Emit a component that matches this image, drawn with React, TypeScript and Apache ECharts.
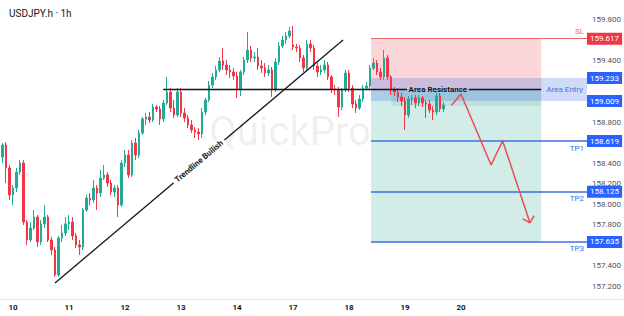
import { useEffect, useRef } from 'react';
import * as echarts from 'echarts';

const TITLE = 'USDJPY.h · 1h';
const WATERMARK = 'QuickPro';
const DAY_LABELS = ['10', '11', '12', '13', '14', '17', '18', '19', '20'];
const DAY_SLOTS = [0, 16, 32, 48, 64, 80, 96, 112, 128];
// tick labels that stay visible (the others sit under the price boxes)
const PRICE_TICKS = [157.2, 157.4, 157.8, 158.0, 158.2, 158.4, 158.8, 159.4, 159.8];
const X_MIN = -3.714;
const X_MAX = 164;
const Y_MIN = 157.078;
const Y_MAX = 159.995;
const FIRST_SLOT = -3;

// [open, close, low, high]
const OHLC: number[][] = [
  [158.463, 158.580, 158.405, 158.600], [158.580, 158.356, 158.210, 158.610], [158.356, 158.093, 158.044, 158.385],
  [158.093, 158.161, 157.995, 158.190], [158.161, 158.317, 158.122, 158.356], [158.317, 158.405, 158.288, 158.434],
  [158.405, 157.829, 157.800, 158.434], [157.829, 157.654, 157.605, 157.849], [157.654, 157.771, 157.634, 157.829],
  [157.771, 157.878, 157.751, 157.946], [157.878, 157.634, 157.585, 157.898], [157.634, 157.810, 157.605, 157.849],
  [157.810, 157.878, 157.771, 157.995], [157.878, 157.654, 157.634, 157.898], [157.654, 157.556, 157.507, 157.683],
  [157.556, 157.312, 157.293, 157.585], [157.312, 157.673, 157.293, 157.693], [157.673, 157.722, 157.634, 157.800],
  [157.722, 157.810, 157.693, 157.878], [157.810, 157.829, 157.751, 157.898], [157.829, 157.693, 157.654, 157.878],
  [157.693, 157.605, 157.576, 157.722], [157.605, 157.585, 157.507, 157.654], [157.585, 157.946, 157.556, 157.966],
  [157.946, 158.063, 157.927, 158.093], [158.063, 158.044, 157.995, 158.112], [158.044, 158.161, 158.015, 158.239],
  [158.161, 158.112, 157.946, 158.190], [158.112, 158.258, 158.073, 158.337], [158.258, 158.288, 158.239, 158.385],
  [158.288, 158.210, 158.171, 158.317], [158.210, 158.122, 158.093, 158.239], [158.122, 158.161, 158.073, 158.190],
  [158.161, 157.995, 157.878, 158.190], [157.995, 158.405, 157.976, 158.434], [158.405, 158.483, 158.366, 158.532],
  [158.483, 158.288, 158.258, 158.532], [158.288, 158.600, 158.268, 158.629], [158.600, 158.483, 158.434, 158.649],
  [158.483, 158.698, 158.454, 158.727], [158.698, 158.834, 158.678, 158.854], [158.834, 158.854, 158.776, 158.893],
  [158.854, 158.824, 158.795, 158.902], [158.824, 158.951, 158.805, 158.980], [158.951, 158.932, 158.902, 158.971],
  [158.932, 158.834, 158.776, 158.961], [158.834, 158.990, 158.805, 159.019], [158.990, 159.097, 158.971, 159.244],
  [159.097, 158.941, 158.902, 159.136], [158.941, 158.873, 158.844, 159.019], [158.873, 159.097, 158.854, 159.136],
  [159.097, 158.893, 158.854, 159.136], [158.893, 158.844, 158.805, 158.941], [158.844, 158.776, 158.746, 158.873],
  [158.776, 158.727, 158.698, 158.824], [158.727, 158.707, 158.649, 158.756], [158.707, 158.688, 158.629, 158.746],
  [158.688, 158.902, 158.649, 158.941], [158.902, 159.019, 158.873, 159.039], [159.019, 159.166, 159.000, 159.205],
  [159.166, 159.244, 159.136, 159.283], [159.244, 159.312, 159.215, 159.351], [159.312, 159.400, 159.293, 159.439],
  [159.400, 159.361, 159.312, 159.527], [159.361, 159.312, 159.263, 159.410], [159.312, 159.293, 159.234, 159.361],
  [159.293, 159.254, 159.215, 159.332], [159.254, 159.117, 159.039, 159.293], [159.117, 159.293, 159.058, 159.312],
  [159.293, 159.410, 159.263, 159.439], [159.410, 159.507, 159.380, 159.683], [159.507, 159.429, 159.390, 159.546],
  [159.429, 159.439, 159.390, 159.488], [159.439, 159.351, 159.312, 159.527], [159.351, 159.332, 159.283, 159.410],
  [159.332, 159.283, 159.244, 159.380], [159.283, 159.312, 159.254, 159.361], [159.312, 159.117, 159.049, 159.341],
  [159.117, 159.390, 159.097, 159.429], [159.390, 159.546, 159.361, 159.585], [159.546, 159.605, 159.527, 159.644],
  [159.605, 159.644, 159.566, 159.683], [159.644, 159.693, 159.624, 159.732], [159.556, 159.536, 159.507, 159.741],
  [159.536, 159.527, 159.488, 159.566], [159.527, 159.429, 159.390, 159.556], [159.429, 159.332, 159.293, 159.458],
  [159.332, 159.566, 159.312, 159.605], [159.566, 159.527, 159.488, 159.605], [159.527, 159.351, 159.312, 159.556],
  [159.351, 159.293, 159.244, 159.380], [159.293, 159.312, 159.263, 159.361], [159.312, 159.361, 159.283, 159.410],
  [159.361, 159.244, 159.215, 159.390], [159.244, 159.127, 159.088, 159.263], [159.127, 159.117, 159.068, 159.166],
  [159.117, 158.951, 158.854, 159.146], [158.951, 159.117, 158.922, 159.136], [159.117, 159.283, 159.097, 159.312],
  [159.283, 159.136, 159.097, 159.312], [159.136, 158.980, 158.941, 159.166], [158.980, 158.941, 158.893, 159.019],
  [158.941, 159.029, 158.922, 159.068], [159.029, 159.136, 159.000, 159.166], [159.136, 159.156, 159.117, 159.195],
  [159.156, 159.332, 159.127, 159.361], [159.332, 159.380, 159.312, 159.429], [159.380, 159.293, 159.263, 159.410],
  [159.293, 159.244, 159.215, 159.332], [159.244, 159.429, 159.215, 159.507], [159.429, 159.244, 159.215, 159.458],
  [159.244, 159.117, 159.068, 159.263], [159.117, 159.097, 159.058, 159.146], [159.097, 159.049, 159.000, 159.136],
  [159.049, 159.010, 158.961, 159.088], [159.010, 158.873, 158.727, 159.049], [158.873, 159.029, 158.844, 159.058],
  [159.029, 159.039, 158.971, 159.068], [159.039, 158.990, 158.941, 159.068], [158.990, 159.039, 158.961, 159.068],
  [159.039, 158.990, 158.951, 159.058], [158.990, 158.980, 158.844, 159.019], [158.980, 158.922, 158.893, 159.019],
  [158.922, 158.902, 158.824, 158.961], [158.902, 159.058, 158.873, 159.097], [159.058, 158.932, 158.902, 159.088],
  [158.932, 158.971, 158.902, 159.000],
];

const SL = 159.617;
const ENTRY = 159.125;
const TPS = [158.619, 158.125, 157.635];
const TP_NAMES = ['TP1', 'TP2', 'TP3'];
const ZONE_TOP = 159.233;
const ZONE_BOTTOM = 159.009;
const BOX_X = [102.3, 150.9];
const HIGHLIGHT_X = [108, 150.9];
const HIGHLIGHT_BOTTOM = 158.961;
const RESIST_X = [42.9, 150.9];
const RESIST_GAP = [112.6, 130.2];
const TREND = [[12, 157.234], [94.3, 159.605]];
const ARROW = [[125.3, 158.968], [128, 159.078], [136.6, 158.385], [139.9, 158.62], [147.7, 157.822]];
const ARROW_HEAD = [[145.6, 157.859], [147.7, 157.822], [148.9, 157.891]];

const UP = '#22ab94';
const DOWN = '#f23645';
const BLUE = '#2962ff';
const FONT = 'Roboto, "Liberation Sans", sans-serif';

export default function App() {
  const ref = useRef<HTMLDivElement>(null);
  useEffect(() => {
    if (!ref.current) return;
    const chart = echarts.init(ref.current, undefined, { renderer: 'svg' });
    const candleData = OHLC.map((r, i) => [FIRST_SLOT + i, r[0], r[1], r[2], r[3]]);

    const priceBox = (v: number, color: string) => [
      {
        coord: [X_MAX - 1, v],
        lineStyle: { color: 'rgba(0,0,0,0)', width: 0 },
        label: {
          show: true, position: 'end', distance: 0, formatter: v.toFixed(3),
          backgroundColor: color, color: '#fff', padding: [2, 3, 2, 3], fontSize: 8, fontFamily: FONT,
        },
      },
      { coord: [X_MAX, v] },
    ];

    const option: any = {
      animation: false,
      textStyle: { fontFamily: FONT },
      title: {
        text: TITLE, left: 4, top: 3,
        textStyle: { fontSize: 10, fontWeight: 'normal', color: '#131722', fontFamily: FONT },
      },
      grid: { left: 0, right: 37, top: 0, bottom: 17, containLabel: false, outerBoundsMode: 'none' },
      graphic: [
        {
          type: 'text', x: 290, y: 131, z: -10, silent: true,
          style: {
            text: WATERMARK, fontSize: 40, fontFamily: FONT, fill: 'rgba(0,0,0,0.075)',
            align: 'center', verticalAlign: 'middle',
          },
        },
        {
          type: 'line', silent: true, z: -10,
          shape: { x1: 0, y1: 299.5, x2: 624, y2: 299.5 },
          style: { stroke: '#e0e3eb', lineWidth: 1 },
        },
      ],
      xAxis: {
        type: 'value', min: X_MIN, max: X_MAX,
        axisLine: { show: true, lineStyle: { color: '#e0e3eb' } },
        axisTick: { show: false },
        splitLine: { show: false },
        axisLabel: {
          customValues: DAY_SLOTS,
          formatter: (v: number) => DAY_LABELS[DAY_SLOTS.indexOf(v)] ?? '',
          fontSize: 8, color: '#131722', fontWeight: 'bold', margin: 4, fontFamily: FONT,
        },
      },
      yAxis: {
        type: 'value', position: 'right', min: Y_MIN, max: Y_MAX, scale: true,
        axisLine: { show: false },
        axisTick: { show: false },
        splitLine: { show: false },
        axisLabel: {
          customValues: PRICE_TICKS,
          formatter: (v: number) => v.toFixed(3),
          fontSize: 8, color: '#50535e', margin: 5, fontFamily: FONT,
        },
      },
      series: [
        {
          type: 'line', data: [], clip: false, z: 1, silent: true,
          markArea: {
            silent: true,
            data: [
              [{ coord: [BOX_X[0], SL], itemStyle: { color: 'rgba(242,54,69,0.2)' } }, { coord: [BOX_X[1], ENTRY] }],
              [{ coord: [BOX_X[0], ENTRY], itemStyle: { color: 'rgba(8,153,129,0.18)' } }, { coord: [BOX_X[1], TPS[2]] }],
              [
                {
                  coord: [BOX_X[0], ZONE_TOP], itemStyle: { color: 'rgba(60,110,230,0.25)' },
                  label: {
                    show: true, position: 'insideRight', distance: 4, formatter: 'Area Entry',
                    color: '#4a72d8', fontSize: 8, fontFamily: FONT,
                  },
                },
                { coord: [X_MAX, ZONE_BOTTOM] },
              ],
              [{ coord: [HIGHLIGHT_X[0], ENTRY], itemStyle: { color: 'rgba(20,100,110,0.09)' } }, { coord: [HIGHLIGHT_X[1], HIGHLIGHT_BOTTOM] }],
            ],
          },
        },
        {
          type: 'line', data: [], clip: false, z: 2, silent: true,
          markLine: {
            silent: true, symbol: ['none', 'none'], animation: false,
            data: [
              [
                {
                  coord: TREND[0], lineStyle: { color: '#131722', width: 1.3, type: 'solid' },
                  label: {
                    show: true, position: 'middle', formatter: 'Trendline Bullish', verticalAlign: 'middle',
                    align: 'center', distance: 0, backgroundColor: '#ffffff', padding: [1, 3], fontWeight: 'bold',
                    fontSize: 8, color: '#131722', fontFamily: FONT,
                  },
                },
                { coord: TREND[1] },
              ],
              [
                { coord: [RESIST_X[0], ENTRY], lineStyle: { color: '#131722', width: 1.3, type: 'solid' }, label: { show: false } },
                { coord: [RESIST_GAP[0], ENTRY] },
              ],
              [
                { coord: [RESIST_GAP[1], ENTRY], lineStyle: { color: '#131722', width: 1.3, type: 'solid' }, label: { show: false } },
                { coord: [RESIST_X[1], ENTRY] },
              ],
              [
                {
                  coord: [RESIST_GAP[0], ENTRY], lineStyle: { color: 'rgba(0,0,0,0)', width: 0 },
                  label: {
                    show: true, position: 'middle', formatter: 'Area Resistance', verticalAlign: 'middle',
                    align: 'center', distance: 0, fontWeight: 'bold', fontSize: 8, color: '#131722', fontFamily: FONT,
                  },
                },
                { coord: [RESIST_GAP[1], ENTRY] },
              ],
            ],
          },
        },
        {
          type: 'candlestick', data: candleData, z: 3, barWidth: 1.6,
          encode: { x: 0, y: [1, 2, 3, 4] },
          itemStyle: { color: UP, color0: DOWN, borderColor: UP, borderColor0: DOWN, borderWidth: 1 },
        },
        {
          type: 'line', data: [], clip: false, z: 5, silent: true,
          markLine: {
            silent: true, symbol: ['none', 'none'], animation: false,
            data: [
              [
                {
                  coord: [BOX_X[0], SL], lineStyle: { color: '#f0646e', width: 1.2, type: 'solid' },
                  label: { show: true, position: 'insideEndTop', formatter: 'SL', color: '#f0646e', fontSize: 8, distance: 3, fontFamily: FONT },
                },
                { coord: [X_MAX, SL] },
              ],
              ...TPS.map((v, i) => [
                {
                  coord: [BOX_X[0], v], lineStyle: { color: '#3b6fe0', width: 1.5, type: 'solid' },
                  label: { show: true, position: 'insideEndBottom', formatter: TP_NAMES[i], color: '#3b6fe0', fontSize: 8, distance: 3, fontFamily: FONT },
                },
                { coord: [X_MAX, v] },
              ]),
              priceBox(SL, DOWN),
              priceBox(ZONE_TOP, BLUE),
              priceBox(ZONE_BOTTOM, BLUE),
              ...TPS.map((v) => priceBox(v, BLUE)),
            ],
          },
        },
        {
          type: 'line', data: ARROW, z: 6, showSymbol: false, symbol: 'none', silent: true,
          lineStyle: { color: '#ec4b56', width: 1.5 },
        },
        {
          type: 'line', data: ARROW_HEAD, z: 6, showSymbol: false, symbol: 'none', silent: true,
          lineStyle: { color: '#ec4b56', width: 1.5 },
        },
      ],
    };
    chart.setOption(option);
    return () => chart.dispose();
  }, []);

  return (
    <div
      ref={ref}
      style={{ position: 'fixed', left: 0, top: 0, width: 624, height: 316, background: '#ffffff' }}
    />
  );
}
